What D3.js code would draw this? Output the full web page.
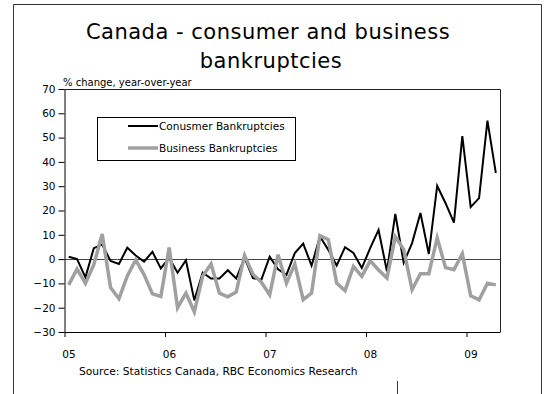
<!DOCTYPE html>
<html>
<head>
<meta charset="utf-8">
<script src="https://cdn.jsdelivr.net/npm/d3@7"></script>
<style>
  body { margin: 0; background: #fff; }
  svg { display: block; font-family: "DejaVu Sans", sans-serif; }
</style>
</head>
<body>
<svg id="chart" width="546" height="394"></svg>
<script>
// monthly y/y % change, Jan 2005 - Apr 2009
const consumer = [
  1, 0, -7.5, 4.5, 6, -0.8, -2, 4.7, 1.5, -1, 3, -3.8,
  0.5, -5.6, -0.5, -17, -5.6, -8, -8, -4.6, -8, 0.5, -7.8, -8.5,
  1, -4.2, -6.5, 2.5, 6.4, -2.7, 9.3, 3.8, -2.6, 4.9, 2.5, -3.7,
  4.5, 12, -5, 18.6, -1.5, 6.6, 19, 2.1, 30.2, 23, 15, 50.6,
  21.4, 25.1, 57, 35.5
];
const business = [
  -10.6, -4, -10, -2.3, 10.3, -11.7, -16.3, -6.9, -0.3, -6.4, -14.3, -15.4,
  4.8, -20, -14, -21.7, -7, -2, -14, -15.5, -13.6, 1.5, -6.2, -9.5,
  -14.7, 1.8, -9.9, -2, -16.7, -14, 9.7, 8, -9.9, -13, -3, -7.1,
  -0.7, -4.5, -7.8, 9.2, 4, -12.6, -6, -6, 8.7, -3.5, -4.4, 2.2,
  -15.1, -16.8, -9.9, -10.6
];
const yearLabels = ['05', '06', '07', '08', '09'];
const yTicks = [-30, -20, -10, 0, 10, 20, 30, 40, 50, 60, 70];
const seriesNames = ['Conusmer Bankruptcies', 'Business Bankruptcies'];

const svg = d3.select('#chart');
const plotLeft = 64.5, plotRight = 500, plotTop = 89, plotBottom = 332;

// outer frame
svg.append('path')
  .attr('d', 'M13.5,400 V4.5 H541.5 V400')
  .attr('fill', 'none')
  .attr('stroke', '#333')
  .attr('stroke-width', 1);
svg.append('line')
  .attr('x1', 397.5).attr('x2', 397.5).attr('y1', 381).attr('y2', 394)
  .attr('stroke', '#333');

// title
svg.append('text')
  .attr('x', 268).attr('y', 39)
  .attr('text-anchor', 'middle')
  .attr('font-size', '21px')
  .attr('letter-spacing', '0.5px')
  .text('Canada - consumer and business');
svg.append('text')
  .attr('x', 271).attr('y', 68)
  .attr('text-anchor', 'middle')
  .attr('font-size', '21px')
  .attr('letter-spacing', '0.5px')
  .text('bankruptcies');

svg.append('text')
  .attr('x', 63).attr('y', 86)
  .attr('font-size', '10px')
  .text('% change, year-over-year');

const x = d3.scaleLinear().domain([0, consumer.length]).range([plotLeft, plotRight]);
const y = d3.scaleLinear().domain([-30, 70]).range([plotBottom, plotTop]);

// plot frame (top and right)
svg.append('path')
  .attr('d', `M${plotLeft},${plotTop + 0.5} H${plotRight + 0.5} V${plotBottom}`)
  .attr('fill', 'none')
  .attr('stroke', '#222');

// zero line
svg.append('line')
  .attr('x1', plotLeft).attr('x2', plotRight)
  .attr('y1', Math.round(y(0)) + 0.5).attr('y2', Math.round(y(0)) + 0.5)
  .attr('stroke', '#444');

// y axis
const yAxis = svg.append('g')
  .attr('transform', `translate(${plotLeft},0)`)
  .call(d3.axisLeft(y).tickValues(yTicks).tickSize(6).tickSizeOuter(0).tickPadding(3));
yAxis.selectAll('text').attr('font-size', '10.5px').attr('font-family', '"DejaVu Sans", sans-serif').attr('fill', '#000');
yAxis.selectAll('line,path').attr('stroke', '#000');

// x axis
const xAxis = svg.append('g')
  .attr('transform', `translate(0,${plotBottom})`)
  .call(d3.axisBottom(x).tickValues([0, 12, 24, 36, 48])
    .tickFormat((d, i) => yearLabels[i]).tickSize(5).tickSizeOuter(0));
xAxis.selectAll('text')
  .attr('font-size', '10.5px').attr('font-family', '"DejaVu Sans", sans-serif')
  .attr('fill', '#000')
  .attr('y', 22).attr('dy', '0.4em').attr('dx', 4);
xAxis.selectAll('line,path').attr('stroke', '#000');

// lines
const line = d3.line().x((d, i) => x(i + 0.5)).y(d => y(d));
svg.append('path')
  .datum(consumer)
  .attr('d', line)
  .attr('fill', 'none')
  .attr('stroke', '#000')
  .attr('stroke-width', 2)
  .attr('stroke-linejoin', 'miter');
svg.append('path')
  .datum(business)
  .attr('d', line)
  .attr('fill', 'none')
  .attr('stroke', '#a0a0a0')
  .attr('stroke-width', 3.5)
  .attr('stroke-linejoin', 'miter');

// legend
svg.append('rect')
  .attr('x', 97.5).attr('y', 117.5).attr('width', 198).attr('height', 43)
  .attr('fill', '#fff').attr('stroke', '#000');
const legendColors = ['#000', '#a0a0a0'];
const legendWidths = [2, 3.5];
seriesNames.forEach((name, i) => {
  const ly = 126 + i * 22;
  svg.append('line')
    .attr('x1', 128).attr('x2', 158).attr('y1', ly).attr('y2', ly)
    .attr('stroke', legendColors[i]).attr('stroke-width', legendWidths[i]);
  svg.append('text')
    .attr('x', 159).attr('y', ly + 3.5)
    .attr('font-size', '10.5px')
    .text(name);
});

// source
svg.append('text')
  .attr('x', 79).attr('y', 375)
  .attr('font-size', '10.7px')
  .text('Source: Statistics Canada, RBC Economics Research');
</script>
</body>
</html>
